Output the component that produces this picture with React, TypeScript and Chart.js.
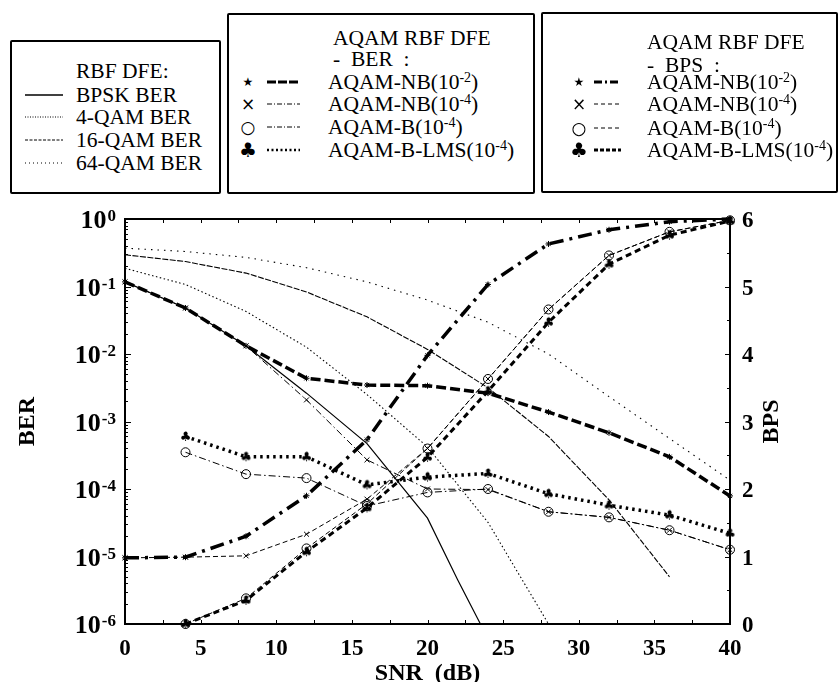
import React, { useEffect, useRef } from "react";
import { Chart, registerables } from "chart.js";
Chart.register(...registerables);

const SERIF = '"Liberation Serif", "Times New Roman", serif';
const SYM = '"DejaVu Sans", sans-serif';

// ---------- data ----------
const snrAqam = [0, 4, 8, 12, 16, 20, 24, 28, 32, 36, 40];
const snrAqamB = [4, 8, 12, 16, 20, 24, 28, 32, 36, 40];
const snrBpsk = [0, 4, 8, 12, 16, 20, 22, 23.5];
const snr4qam = [0, 4, 8, 12, 16, 20, 24, 28];
const snr16qam = [0, 4, 8, 12, 16, 20, 24, 28, 32, 36];
const snr64qam = [0, 4, 8, 12, 16, 20, 24, 28, 32, 36, 40];

const berBpsk = [0.117, 0.048, 0.0132, 0.00263, 4.7e-4, 3.7e-5, 4.5e-6, 1.0e-6];
const ber4qam = [0.186, 0.107, 0.0427, 0.0126, 0.00251, 4.2e-4, 3.2e-5, 1.0e-6];
const ber16qam = [0.295, 0.234, 0.158, 0.083, 0.0355, 0.0117, 0.00316, 6.0e-4, 6.9e-5, 5.0e-6];
const ber64qam = [0.37, 0.33, 0.27, 0.19, 0.117, 0.063, 0.0295, 0.01, 0.00234, 5.6e-4, 1.35e-4];

const berNb2 = [0.117, 0.048, 0.0132, 0.00437, 0.00347, 0.00339, 0.00263, 0.00138, 6.8e-4, 3.0e-4, 7.9e-5];
const berNb4 = [0.117, 0.048, 0.0132, 0.00209, 2.7e-4, 1.0e-4, 9.8e-5, 4.6e-5, 3.8e-5, 2.45e-5, 1.26e-5];
const berB4 = [3.5e-4, 1.66e-4, 1.45e-4, 5.6e-5, 8.9e-5, 1.0e-4, 4.6e-5, 3.8e-5, 2.45e-5, 1.26e-5];
const berLms = [6.0e-4, 3.0e-4, 3.0e-4, 1.15e-4, 1.5e-4, 1.7e-4, 8.5e-5, 5.75e-5, 4.1e-5, 2.2e-5];

const bpsNb2 = [0.98, 0.99, 1.3, 1.9, 2.73, 3.98, 5.03, 5.63, 5.84, 5.96, 6.0];
const bpsNb4 = [0.98, 0.99, 1.01, 1.33, 1.85, 2.6, 3.63, 4.66, 5.46, 5.81, 5.98];
const bpsB4 = [0.0, 0.38, 1.12, 1.78, 2.6, 3.63, 4.66, 5.46, 5.81, 5.98];
const bpsLms = [0.0, 0.35, 1.07, 1.72, 2.47, 3.45, 4.47, 5.33, 5.76, 5.97];

const xTickValues = [0, 5, 10, 15, 20, 25, 30, 35, 40];
const bpsTickValues = [0, 1, 2, 3, 4, 5, 6];
const berDecadeExps = [0, -1, -2, -3, -4, -5, -6];

const xTitle = "SNR  (dB)";
const yTitle = "BER";
const y2Title = "BPS";

// ---------- helpers ----------
const pts = (xs: number[], ys: number[]) => xs.map((x, i) => ({ x, y: ys[i] }));

function makeClub(size: number) {
  const c = document.createElement("canvas");
  c.width = size;
  c.height = size;
  const g = c.getContext("2d")!;
  g.fillStyle = "#000";
  g.font = `${size}px ${SYM}`;
  g.textAlign = "center";
  g.textBaseline = "middle";
  g.fillText("\u2663", size / 2, size / 2 + 1);
  return c;
}

const decorPlugin = {
  id: "decor",
  afterDatasetsDraw(chart: any) {
    const { ctx, chartArea: a, scales } = chart;
    const xs = scales.x, ys = scales.y, y2 = scales.y2;
    ctx.save();
    ctx.setLineDash([]);
    ctx.strokeStyle = "#000";
    ctx.fillStyle = "#000";
    ctx.lineWidth = 1;
    ctx.beginPath();
    for (let v = 0; v <= 40; v += 2.5) {
      const px = Math.round(xs.getPixelForValue(v)) + 0.5;
      ctx.moveTo(px, a.bottom); ctx.lineTo(px, a.bottom - 4);
      ctx.moveTo(px, a.top); ctx.lineTo(px, a.top + 4);
    }
    for (let k = -6; k < 0; k++) {
      for (let m = 1; m < 10; m++) {
        const py = Math.round(ys.getPixelForValue(m * Math.pow(10, k))) + 0.5;
        const len = m === 1 ? 6 : 3;
        ctx.moveTo(a.left, py); ctx.lineTo(a.left + len, py);
      }
    }
    for (let v = 0; v <= 6; v += 0.5) {
      const py = Math.round(y2.getPixelForValue(v)) + 0.5;
      const len = Number.isInteger(v) ? 5 : 3;
      ctx.moveTo(a.right, py); ctx.lineTo(a.right - len, py);
    }
    ctx.stroke();
    ctx.lineWidth = 2;
    ctx.strokeRect(a.left, a.top, a.right - a.left, a.bottom - a.top);

    // x tick labels
    ctx.font = `bold 23px ${SERIF}`;
    ctx.textAlign = "center";
    ctx.textBaseline = "alphabetic";
    xTickValues.forEach((v) => {
      ctx.fillText(String(v), xs.getPixelForValue(v), a.bottom + 31);
    });
    // right tick labels
    ctx.textAlign = "left";
    bpsTickValues.forEach((v) => {
      ctx.fillText(String(v), a.right + 12, y2.getPixelForValue(v) + 8);
    });
    // left log labels with superscripts
    berDecadeExps.forEach((e) => {
      const py = ys.getPixelForValue(Math.pow(10, e));
      const sup = String(e);
      ctx.font = `bold 17px ${SERIF}`;
      const sw = ctx.measureText(sup).width;
      ctx.font = `bold 26px ${SERIF}`;
      const bw = ctx.measureText("10").width;
      const right = a.left - 9;
      ctx.textAlign = "left";
      ctx.fillText("10", right - sw - 1 - bw, py + 9);
      ctx.font = `bold 17px ${SERIF}`;
      ctx.fillText(sup, right - sw, py + 2);
    });
    // titles
    ctx.font = `bold 24px ${SERIF}`;
    ctx.textAlign = "center";
    ctx.fillText(xTitle, (a.left + a.right) / 2, a.bottom + 56);
    ctx.save();
    ctx.translate(a.right + 48, (a.top + a.bottom) / 2);
    ctx.rotate(-Math.PI / 2);
    ctx.fillText(y2Title, 0, 0);
    ctx.restore();
    ctx.save();
    ctx.translate(34, (a.top + a.bottom) / 2);
    ctx.rotate(-Math.PI / 2);
    ctx.fillText(yTitle, 0, 0);
    ctx.restore();
    ctx.restore();
  },
};

// ---------- legend ----------
type Row = { sym?: string; symSize?: number; dash: string; width: number; label: React.ReactNode; y: number };

const Sup = ({ t }: { t: string }) => (
  <span style={{ fontSize: "14px", position: "relative", top: "-7px" }}>{t}</span>
);

function LegendBox(props: {
  left: number; top: number; width: number; height: number;
  titles: { text: string; x: number; y: number }[];
  rows: Row[]; symX: number; lineX1: number; lineX2: number; textX: number;
}) {
  const { left, top, width, height, titles, rows, symX, lineX1, lineX2, textX } = props;
  const txt = (x: number, y: number, content: React.ReactNode, key: string) => (
    <div key={key} style={{
      position: "absolute", left: x - left, top: y - top - 12, height: 24, lineHeight: "24px",
      fontSize: "21.5px", fontFamily: SERIF, whiteSpace: "pre", color: "#000",
    }}>{content}</div>
  );
  return (
    <div style={{
      position: "absolute", left, top, width: width - 4, height: height - 4,
      border: "2px solid #000", borderRadius: 2, background: "#fff",
    }}>
      {titles.map((t, i) => txt(t.x - 2, t.y - 2, t.text, "t" + i))}
      {rows.map((r, i) => (
        <React.Fragment key={"r" + i}>
          {r.sym ? (
            <div style={{
              position: "absolute", left: symX - left - 2 - 12, top: r.y - top - 2 - 12, width: 24, height: 24,
              lineHeight: "24px", textAlign: "center", fontFamily: SYM, fontSize: (r.symSize || 14) + "px",
            }}>{r.sym}</div>
          ) : null}
          <svg style={{ position: "absolute", left: lineX1 - left - 2, top: r.y - top - 2 - 4 }}
            width={lineX2 - lineX1} height={8}>
            <line x1={0} y1={4} x2={lineX2 - lineX1} y2={4} stroke="#000"
              strokeWidth={r.width} strokeDasharray={r.dash} />
          </svg>
          {txt(textX - 2, r.y - 2, r.label, "l" + i)}
        </React.Fragment>
      ))}
    </div>
  );
}

export default function App() {
  const ref = useRef<HTMLCanvasElement | null>(null);
  useEffect(() => {
    if (!ref.current) return;
    const club = makeClub(13);
    const thin = 1.1;
    const chart = new Chart(ref.current, {
      type: "line",
      data: {
        datasets: [
          { label: "BPSK BER", data: pts(snrBpsk, berBpsk), yAxisID: "y", borderColor: "#000", borderWidth: 1.2, pointRadius: 0 },
          { label: "4-QAM BER", data: pts(snr4qam, ber4qam), yAxisID: "y", borderColor: "#000", borderWidth: thin, borderDash: [1.5, 2.5], pointRadius: 0 },
          { label: "16-QAM BER", data: pts(snr16qam, ber16qam), yAxisID: "y", borderColor: "#000", borderWidth: thin, borderDash: [6, 1.5], pointRadius: 0 },
          { label: "64-QAM BER", data: pts(snr64qam, ber64qam), yAxisID: "y", borderColor: "#000", borderWidth: thin, borderDash: [1.5, 5], pointRadius: 0 },
          { label: "AQAM-NB(1e-2) BER", data: pts(snrAqam, berNb2), yAxisID: "y", borderColor: "#000", borderWidth: 3.5, borderDash: [10, 4], pointStyle: "star", pointRadius: 3, pointBorderWidth: 1, pointBorderColor: "#000" },
          { label: "AQAM-NB(1e-4) BER", data: pts(snrAqam, berNb4), yAxisID: "y", borderColor: "#000", borderWidth: 1, borderDash: [7, 3, 1.5, 3], pointStyle: "crossRot", pointRadius: 3.5, pointBorderWidth: 1, pointBorderColor: "#000" },
          { label: "AQAM-B(1e-4) BER", data: pts(snrAqamB, berB4), yAxisID: "y", borderColor: "#000", borderWidth: 1, borderDash: [7, 3, 1.5, 3], pointStyle: "circle", pointRadius: 4.5, pointBorderWidth: 1, pointBorderColor: "#000", pointBackgroundColor: "rgba(0,0,0,0)" },
          { label: "AQAM-B-LMS(1e-4) BER", data: pts(snrAqamB, berLms), yAxisID: "y", borderColor: "#000", borderWidth: 3.5, borderDash: [2.5, 4], pointStyle: club, pointRadius: 6 },
          { label: "AQAM-NB(1e-2) BPS", data: pts(snrAqam, bpsNb2), yAxisID: "y2", borderColor: "#000", borderWidth: 3.5, borderDash: [14, 6, 3, 6], pointStyle: "star", pointRadius: 3, pointBorderWidth: 1, pointBorderColor: "#000" },
          { label: "AQAM-NB(1e-4) BPS", data: pts(snrAqam, bpsNb4), yAxisID: "y2", borderColor: "#000", borderWidth: 1, borderDash: [5, 3], pointStyle: "crossRot", pointRadius: 3.5, pointBorderWidth: 1, pointBorderColor: "#000" },
          { label: "AQAM-B(1e-4) BPS", data: pts(snrAqamB, bpsB4), yAxisID: "y2", borderColor: "#000", borderWidth: 1, borderDash: [5, 3], pointStyle: "circle", pointRadius: 4.5, pointBorderWidth: 1, pointBorderColor: "#000", pointBackgroundColor: "rgba(0,0,0,0)" },
          { label: "AQAM-B-LMS(1e-4) BPS", data: pts(snrAqamB, bpsLms), yAxisID: "y2", borderColor: "#000", borderWidth: 3, borderDash: [6, 4], pointStyle: club, pointRadius: 6 },
        ].map((d: any) => ({ ...d, fill: false, tension: 0, clip: false, backgroundColor: "rgba(0,0,0,0)", borderCapStyle: "butt" })),
      },
      options: {
        animation: false,
        responsive: false,
        devicePixelRatio: 1,
        events: [],
        layout: { padding: { top: 219, left: 0, right: 0, bottom: 0 } },
        plugins: { legend: { display: false }, tooltip: { enabled: false }, title: { display: false } },
        scales: {
          x: {
            type: "linear", min: 0, max: 40,
            ticks: { display: false, stepSize: 5 },
            grid: { display: false }, border: { display: false },
            afterFit: (s: any) => { s.height = 58; },
          },
          y: {
            type: "logarithmic", position: "left", min: 1e-6, max: 1,
            ticks: { display: false },
            grid: { display: false }, border: { display: false },
            afterFit: (s: any) => { s.width = 125; },
          },
          y2: {
            type: "linear", position: "right", min: 0, max: 6,
            ticks: { display: false, stepSize: 1 },
            grid: { display: false }, border: { display: false },
            afterFit: (s: any) => { s.width = 109; },
          },
        },
      } as any,
      plugins: [decorPlugin],
    });
    return () => chart.destroy();
  }, []);

  const lbl = (base: string, sup: string) => (<>{base}<Sup t={sup} />)</>);

  return (
    <div style={{ position: "absolute", left: 0, top: 0, width: 839, height: 682, background: "#fff", overflow: "hidden" }}>
      <canvas ref={ref} width={839} height={682} style={{ position: "absolute", left: 0, top: 0 }} />
      <LegendBox left={10} top={40} width={211} height={154}
        titles={[{ text: "RBF DFE:", x: 76, y: 71 }]}
        symX={0} lineX1={25} lineX2={63} textX={76}
        rows={[
          { dash: "", width: 1.6, label: "BPSK BER", y: 95 },
          { dash: "1 1.5", width: 1, label: "4-QAM BER", y: 117 },
          { dash: "3 1.5", width: 1, label: "16-QAM BER", y: 140 },
          { dash: "1 3", width: 1, label: "64-QAM BER", y: 163 },
        ]} />
      <LegendBox left={227} top={13} width={308} height={181}
        titles={[{ text: "AQAM RBF DFE", x: 333, y: 38 }, { text: "-  BER  :", x: 333, y: 59 }]}
        symX={248} lineX1={267} lineX2={300} textX={328}
        rows={[
          { sym: "\u2605", symSize: 12, dash: "9 2", width: 3, label: lbl("AQAM-NB(10", "-2"), y: 82 },
          { sym: "\u00d7", symSize: 17, dash: "5 2 1 2", width: 1, label: lbl("AQAM-NB(10", "-4"), y: 104 },
          { sym: "\u25cb", symSize: 17, dash: "5 2 1 2", width: 1, label: lbl("AQAM-B(10", "-4"), y: 127 },
          { sym: "\u2663", symSize: 20, dash: "2 2.5", width: 2.5, label: lbl("AQAM-B-LMS(10", "-4"), y: 150 },
        ]} />
      <LegendBox left={541} top={12} width={297} height={181}
        titles={[{ text: "AQAM RBF DFE", x: 647, y: 42 }, { text: "-  BPS  :", x: 647, y: 65 }]}
        symX={579} lineX1={594} lineX2={621} textX={647}
        rows={[
          { sym: "\u2605", symSize: 12, dash: "8 3 2 3", width: 3, label: lbl("AQAM-NB(10", "-2"), y: 82 },
          { sym: "\u00d7", symSize: 17, dash: "4 3", width: 1, label: lbl("AQAM-NB(10", "-4"), y: 104 },
          { sym: "\u25cb", symSize: 17, dash: "4 3", width: 1, label: lbl("AQAM-B(10", "-4"), y: 128 },
          { sym: "\u2663", symSize: 20, dash: "4 2", width: 3, label: lbl("AQAM-B-LMS(10", "-4"), y: 150 },
        ]} />
    </div>
  );
}
